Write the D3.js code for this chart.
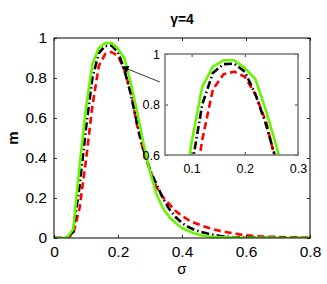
<!DOCTYPE html>
<html>
<head>
<meta charset="utf-8">
<script src="https://cdn.jsdelivr.net/npm/d3@7"></script>
<style>
  body { margin: 0; background: #fff; }
  svg { display: block; font-family: "Liberation Sans", Arial, sans-serif; }
</style>
</head>
<body>
<svg id="chart" width="327" height="284"></svg>
<script>
// sigma grid, step 0.02
var sigma = d3.range(0, 41).map(function (i) { return +(i * 0.02).toFixed(2); });

var mGreen = [0, 0, 0, 0.045, 0.36, 0.65, 0.87, 0.95, 0.975, 0.975,
  0.945, 0.9, 0.775, 0.63, 0.47, 0.33, 0.22, 0.15, 0.105, 0.075,
  0.05, 0.035, 0.022, 0.014, 0.009, 0.006, 0.004, 0.003, 0.002, 0.0015,
  0.001, 0.001, 0.001, 0.0005, 0.0005, 0, 0, 0, 0, 0, 0];

var mBlack = [0, 0, 0, 0.03, 0.26, 0.55, 0.8, 0.925, 0.96, 0.962,
  0.93, 0.84, 0.72, 0.57, 0.44, 0.34, 0.27, 0.2, 0.145, 0.105,
  0.075, 0.055, 0.04, 0.03, 0.022, 0.015, 0.01, 0.007, 0.005, 0.004,
  0.003, 0.002, 0.0015, 0.001, 0.001, 0.0005, 0.0005, 0, 0, 0, 0];

var mRed = [0, 0, 0, 0.02, 0.15, 0.39, 0.66, 0.86, 0.92, 0.93,
  0.91, 0.84, 0.73, 0.56, 0.43, 0.34, 0.255, 0.205, 0.17, 0.135,
  0.11, 0.09, 0.075, 0.063, 0.052, 0.043, 0.035, 0.029, 0.023, 0.018,
  0.014, 0.011, 0.009, 0.007, 0.006, 0.005, 0.004, 0.003, 0.003, 0.002, 0.002];

var xTicks = [0, 0.2, 0.4, 0.6, 0.8];
var yTicks = [0, 0.2, 0.4, 0.6, 0.8, 1];
var insetXTicks = [0.1, 0.2, 0.3];
var insetYTicks = [0.6, 0.8, 1];

var series = [
  { name: "red", values: mRed, color: "#ff0000", dash: "7,4" },
  { name: "black", values: mBlack, color: "#000000", dash: "8,3,1.5,3" },
  { name: "green", values: mGreen, color: "#66f500", dash: null }
];

var svg = d3.select("#chart");

var fmt = function (d) { return d === 0 ? "0" : d === 1 ? "1" : d3.format(".1f")(d); };

function drawPanel(g, x, y, xt, yt, opts) {
    var w = x.range()[1] - x.range()[0];
    var h = y.range()[0] - y.range()[1];

    var clipId = "clip-" + opts.id;
    g.append("clipPath").attr("id", clipId)
        .append("rect")
        .attr("x", x.range()[0]).attr("y", y.range()[1])
        .attr("width", w).attr("height", h);

    if (opts.fill) {
        g.append("rect")
            .attr("x", x.range()[0]).attr("y", y.range()[1])
            .attr("width", w).attr("height", h)
            .attr("fill", "#fff");
    }

    var line = d3.line()
        .x(function (d) { return x(d[0]); })
        .y(function (d) { return y(d[1]); });

    var lines = g.append("g").attr("clip-path", "url(#" + clipId + ")");
    series.forEach(function (s) {
        lines.append("path")
            .datum(sigma.map(function (v, i) { return [v, s.values[i]]; }))
            .attr("d", line)
            .attr("fill", "none")
            .attr("stroke", s.color)
            .attr("stroke-width", 2.6)
            .attr("stroke-dasharray", s.dash)
            .attr("stroke-linejoin", "round");
    });

    var tl = opts.tick;
    // bottom / top
    g.append("g").attr("transform", "translate(0," + y.range()[0] + ")")
        .call(d3.axisBottom(x).tickValues(xt).tickSize(-tl).tickPadding(tl + opts.pad).tickFormat(fmt));
    g.append("g").attr("transform", "translate(0," + y.range()[1] + ")")
        .call(d3.axisTop(x).tickValues(xt).tickSize(-tl).tickFormat(""));
    // left / right
    g.append("g").attr("transform", "translate(" + x.range()[0] + ",0)")
        .call(d3.axisLeft(y).tickValues(yt).tickSize(-tl).tickPadding(tl + opts.padY).tickFormat(fmt));
    g.append("g").attr("transform", "translate(" + x.range()[1] + ",0)")
        .call(d3.axisRight(y).tickValues(yt).tickSize(-tl).tickFormat(""));

    g.selectAll(".domain").remove();
    g.selectAll(".tick line").attr("stroke", opts.tickColor).attr("stroke-width", 0.8);
    g.selectAll(".tick text").attr("font-size", opts.fontSize).attr("fill", "#000");

    g.append("rect")
        .attr("x", x.range()[0]).attr("y", y.range()[1])
        .attr("width", w).attr("height", h)
        .attr("fill", "none")
        .attr("stroke", opts.frame)
        .attr("stroke-width", opts.frameWidth);
}

// main axes
var x = d3.scaleLinear().domain([0, 0.8]).range([54, 310]);
var y = d3.scaleLinear().domain([0, 1]).range([238, 38]);

var mainG = svg.append("g");
drawPanel(mainG, x, y, xTicks, yTicks,
    { id: "main", tick: 3, pad: 5, padY: 4, fontSize: 15.5, tickColor: "#000", frame: "#000", frameWidth: 1, fill: false });

// arrow from inset to the peak
svg.append("defs").append("marker")
    .attr("id", "arrowhead")
    .attr("viewBox", "0 0 10 10")
    .attr("refX", 10).attr("refY", 5)
    .attr("markerUnits", "userSpaceOnUse")
    .attr("markerWidth", 9).attr("markerHeight", 7)
    .attr("orient", "auto")
    .append("path").attr("d", "M0,0 L10,5 L0,10 z").attr("fill", "#000");

svg.append("line")
    .attr("x1", x(0.331)).attr("y1", y(0.78))
    .attr("x2", x(0.211)).attr("y2", y(0.857))
    .attr("stroke", "#000").attr("stroke-width", 0.8)
    .attr("marker-end", "url(#arrowhead)");

// inset
var xi = d3.scaleLinear().domain([0.05, 0.3]).range([165, 298]);
var yi = d3.scaleLinear().domain([0.6, 1]).range([155, 54]);
var insetG = svg.append("g");
drawPanel(insetG, xi, yi, insetXTicks, insetYTicks,
    { id: "inset", tick: 3, pad: 6, padY: 2, fontSize: 12.5, tickColor: "#000", frame: "#7f7f7f", frameWidth: 1.6, fill: true });

// titles
svg.append("text")
    .attr("x", 182).attr("y", 24)
    .attr("text-anchor", "middle")
    .attr("font-size", 14).attr("font-weight", "bold")
    .text("γ=4");

svg.append("text")
    .attr("x", 182).attr("y", 274)
    .attr("text-anchor", "middle")
    .attr("font-size", 15)
    .text("σ");

svg.append("text")
    .attr("transform", "translate(18,138) rotate(-90)")
    .attr("text-anchor", "middle")
    .attr("font-size", 15).attr("font-weight", "bold")
    .text("m");
</script>
</body>
</html>
